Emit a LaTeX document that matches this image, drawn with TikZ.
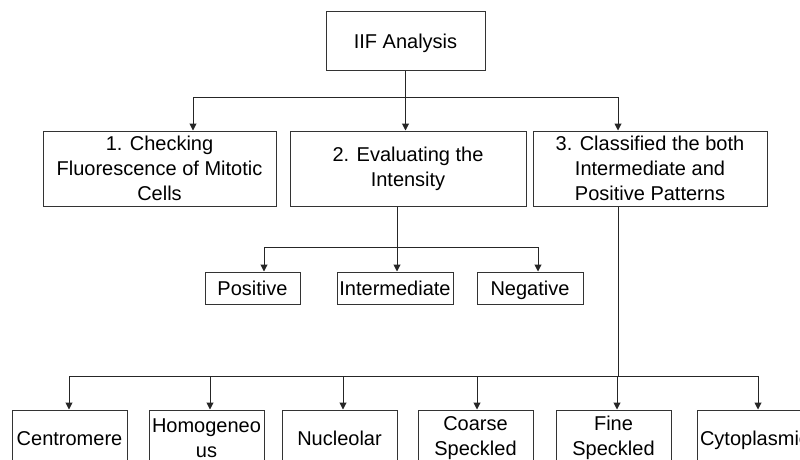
\documentclass[tikz,border=0pt]{standalone}
\usepackage{fontspec}
\setmainfont{Liberation Sans}
\usetikzlibrary{arrows.meta}
\begin{document}
\begin{tikzpicture}[x=1pt, y=-1pt,
        box/.style={draw=black!80, line width=1pt, align=center, inner sep=0pt,
            font=\fontsize{20}{25}\selectfont},
        oneline/.style={box, text height=14.5pt, text depth=0pt},
        link/.style={draw=black!85, line width=1pt},
        arr/.style={link, -{Triangle[length=7pt, width=7pt]}}]
        \clip (0, 0) rectangle (800, 460);

        \node[oneline, minimum width=159pt, minimum height=59pt] at (405.5, 41) (root) {IIF Analysis};

        \node[box, minimum width=233pt, minimum height=75pt] at (159.5, 168.5) (check)    {1. Checking\\Fluorescence of Mitotic\\Cells};
        \node[box, minimum width=236pt, minimum height=75pt] at (408, 168.5)   (eval)     {2. Evaluating the\\Intensity};
        \node[box, minimum width=234pt, minimum height=75pt] at (650, 168.5)   (classify) {3. Classified the both\\Intermediate and\\Positive Patterns};

        \node[oneline, minimum width=95pt,  minimum height=32pt] at (252.5, 288) (pos)   {Positive};
        \node[oneline, minimum width=116pt, minimum height=32pt] at (395, 288)   (inter) {Intermediate};
        \node[oneline, minimum width=106pt, minimum height=32pt] at (530, 288)   (neg)   {Negative};

        \node[oneline, minimum width=115pt, minimum height=56pt] at (69.5, 438)  (centro) {Centromere};
        \node[box,     minimum width=115pt, minimum height=56pt] at (206.5, 438) (homog)  {Homogeneo\\us};
        \node[oneline, minimum width=115pt, minimum height=56pt] at (339.5, 438) (nucleo) {Nucleolar};
        \node[box,     minimum width=115pt, minimum height=56pt] at (475.5, 438) (coarse) {Coarse\\Speckled};
        \node[box,     minimum width=115pt, minimum height=56pt] at (613.5, 438) (fine)   {Fine\\Speckled};
        \node[oneline, minimum width=115pt, minimum height=56pt] at (754.5, 438) (cyto)   {Cytoplasmic};

        % root to the three steps
        \coordinate (t1) at (193, 97);
        \coordinate (t3) at (618, 97);
        \draw[link] (root.south) -- (root.south |- t1);
        \draw[link] (t1) -- (t3);
        \draw[arr]  (t1) -- (t1 |- check.north);
        \draw[arr]  (root.south) -- (root.south |- eval.north);
        \draw[arr]  (t3) -- (t3 |- classify.north);

        % intensity
        \coordinate (m1) at (264, 247);
        \coordinate (m2) at (397, 247);
        \coordinate (m3) at (538, 247);
        \draw[link] (m2 |- eval.south) -- (m2);
        \draw[link] (m1) -- (m3);
        \draw[arr]  (m1) -- (m1 |- pos.north);
        \draw[arr]  (m2) -- (m2 |- inter.north);
        \draw[arr]  (m3) -- (m3 |- neg.north);

        % patterns
        \coordinate (p0) at (618, 376);
        \draw[link] (p0 |- classify.south) -- (p0);
        \draw[link] (69, 376) coordinate (pl) -- (758, 376) coordinate (pr);
        \foreach \px/\name in {69/centro, 210/homog, 343/nucleo, 477/coarse, 617/fine, 758/cyto}
            \draw[arr] (\px, 376) -- (\px, 376 |- \name.north);

    \end{tikzpicture}
\end{document}
